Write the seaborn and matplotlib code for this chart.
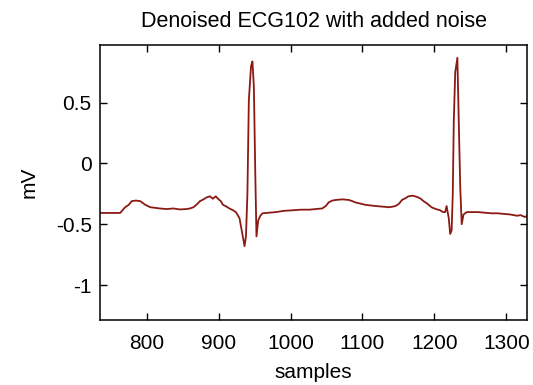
import matplotlib
matplotlib.use("Agg")
import matplotlib.pyplot as plt
import seaborn as sns
import pandas as pd

# ---- data ----
samples = [735, 738, 763, 770, 775, 779, 785, 791, 798, 805, 812, 818, 828, 837, 846, 855,
           860, 865, 870, 874, 879, 883, 888, 892, 896, 899, 903, 906, 911, 915, 920, 924,
           929, 933, 936, 938, 940, 942, 945, 947, 949, 951, 952.6, 955, 958, 961, 970,
           980, 990, 1003, 1015, 1026, 1035, 1044, 1049, 1053, 1058, 1063, 1072, 1081,
           1086, 1090, 1097, 1104, 1111, 1118, 1128, 1137, 1142, 1146, 1151, 1155, 1160,
           1164, 1170, 1176, 1181, 1185, 1190, 1196, 1202, 1208, 1212, 1215, 1217, 1220,
           1222, 1224, 1225.6, 1227, 1229, 1232, 1234, 1236, 1238, 1240.5, 1245, 1253,
           1261, 1270, 1280, 1288, 1297, 1306, 1315, 1320, 1325.6, 1330]
millivolts = [-0.407, -0.407, -0.407, -0.36, -0.34, -0.31, -0.305, -0.31, -0.34, -0.36,
              -0.365, -0.37, -0.375, -0.37, -0.378, -0.375, -0.37, -0.36, -0.335, -0.31,
              -0.295, -0.28, -0.27, -0.29, -0.27, -0.29, -0.31, -0.34, -0.355, -0.37,
              -0.385, -0.40, -0.45, -0.58, -0.68, -0.60, -0.25, 0.52, 0.80, 0.84, 0.63,
              -0.10, -0.60, -0.47, -0.43, -0.41, -0.405, -0.40, -0.39, -0.385, -0.38,
              -0.38, -0.375, -0.37, -0.35, -0.32, -0.305, -0.30, -0.295, -0.30, -0.31,
              -0.32, -0.33, -0.34, -0.345, -0.35, -0.355, -0.36, -0.355, -0.35, -0.33,
              -0.30, -0.285, -0.27, -0.265, -0.275, -0.29, -0.31, -0.33, -0.36, -0.375,
              -0.385, -0.40, -0.40, -0.35, -0.45, -0.58, -0.55, -0.25, 0.35, 0.75, 0.87,
              0.32, -0.20, -0.50, -0.42, -0.40, -0.40, -0.40, -0.405, -0.41, -0.41,
              -0.415, -0.42, -0.43, -0.425, -0.44, -0.43]
x_ticks = [800, 900, 1000, 1100, 1200, 1300]
y_ticks = [-1, -0.5, 0, 0.5]
y_tick_labels = ["-1", "-0.5", "0", "0.5"]

df = pd.DataFrame({"samples": samples, "mV": millivolts})

sns.set_style("ticks")
plt.rcParams["font.family"] = ["Liberation Sans", "DejaVu Sans"]
plt.rcParams["text.color"] = "black"
plt.rcParams["axes.labelcolor"] = "black"

fig = plt.figure(figsize=(5.33, 3.85), dpi=100)
ax = fig.add_axes([0.1876, 0.1688, 0.8014, 0.7143])

sns.lineplot(data=df, x="samples", y="mV", ax=ax, estimator=None, sort=False,
             color="#8b1a14", linewidth=1.3)

ax.set_xlim(735, 1329)
ax.set_ylim(-1.288, 0.975)
ax.set_xticks(x_ticks)
ax.set_yticks(y_ticks)
ax.set_yticklabels(y_tick_labels)
ax.tick_params(axis="both", direction="in", length=5, width=1, labelsize=15,
               top=True, right=True, colors="black")
ax.tick_params(axis="x", pad=10)
ax.tick_params(axis="y", pad=6)
for s in ax.spines.values():
    s.set_visible(True)
    s.set_linewidth(1.1)
    s.set_color("black")

ax.set_xlabel("samples", fontsize=15, labelpad=7)
ax.set_ylabel("mV", fontsize=15, labelpad=12)
ax.set_title("Denoised ECG102 with added noise", fontsize=15.5, pad=13, color="black")

fig.savefig("out.png", dpi=100)
